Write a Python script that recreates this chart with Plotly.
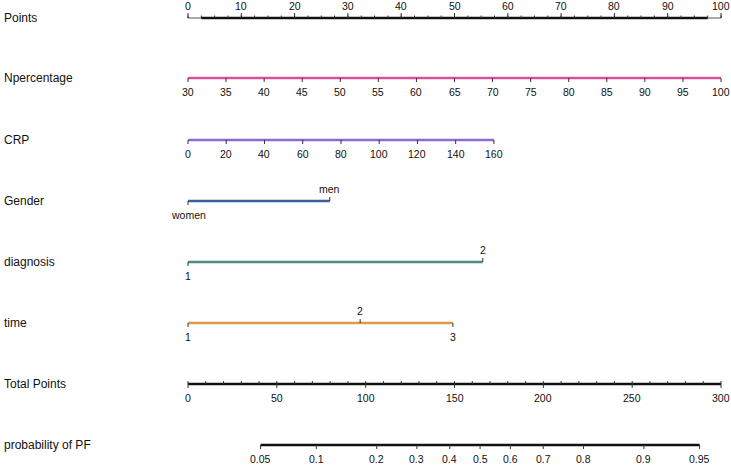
import plotly.graph_objects as go
import numpy as np

# ---------------- data ----------------
row_names = ["Points", "Npercentage", "CRP", "Gender", "diagnosis", "time",
             "Total Points", "probability of PF"]

points_ticks = [0, 10, 20, 30, 40, 50, 60, 70, 80, 90, 100]
points_minor = list(np.arange(0, 100.01, 2.5))

npct_vals = [30, 35, 40, 45, 50, 55, 60, 65, 70, 75, 80, 85, 90, 95, 100]
npct_pts = [0, 7.14, 14.29, 21.43, 28.57, 35.71, 42.86, 50.0, 57.14, 64.29,
            71.43, 78.57, 85.71, 92.86, 100]

crp_vals = [0, 20, 40, 60, 80, 100, 120, 140, 160]
crp_pts = [0, 7.17, 14.35, 21.52, 28.7, 35.87, 43.05, 50.22, 57.4]

gender_labels = ["women", "men"]
gender_pts = [0, 26.6]

diagnosis_labels = ["1", "2"]
diagnosis_pts = [0, 55.3]

time_labels = ["1", "2", "3"]
time_pts = [0, 32.3, 49.7]

total_ticks = [0, 50, 100, 150, 200, 250, 300]
total_minor = list(range(0, 301, 10))

prob_ticks = [0.05, 0.1, 0.2, 0.3, 0.4, 0.5, 0.6, 0.7, 0.8, 0.9, 0.95]
prob_labels = ["0.05", "0.1", "0.2", "0.3", "0.4", "0.5", "0.6", "0.7", "0.8", "0.9", "0.95"]
tp_at_half = 164.4      # total points where probability = 0.5
logit_per_tp = 0.02383  # slope of logit vs total points

# ---------------- layout constants ----------------
W, H = 731, 465
left_px, right_px = 188, 721
ppx = (right_px - left_px) / 100.0
xr = [-left_px / ppx, 100 + (W - right_px) / ppx]
row_y = [18, 78, 140, 201, 262, 323, 384, 445]

colors = {
    "Npercentage": "#d9509c",
    "CRP": "#8a6cd4",
    "Gender": "#3c5f9e",
    "diagnosis": "#4c8c84",
    "time": "#dd9a48",
}
FONT = "Liberation Sans, Arial, Helvetica, sans-serif"
TICK_FS = 10.5
NAME_FS = 12

fig = go.Figure()
annotations = []


def hline(x0, x1, y, color, width):
    fig.add_trace(go.Scatter(x=[x0, x1], y=[y, y], mode="lines",
                             line=dict(color=color, width=width),
                             hoverinfo="skip", showlegend=False))


def ticks(xs, y, length, color="#333333", width=1):
    tx, ty = [], []
    for x in xs:
        tx += [x, x, None]
        ty += [y, y + length, None]
    fig.add_trace(go.Scatter(x=tx, y=ty, mode="lines",
                             line=dict(color=color, width=width),
                             hoverinfo="skip", showlegend=False))


def label(x, y, text, size=TICK_FS):
    annotations.append(dict(x=x, y=y, xref="x", yref="y", text=text,
                            showarrow=False, xanchor="center", yanchor="middle",
                            font=dict(family=FONT, size=size, color="#111111")))


# Points axis
y = row_y[0]
hline(0, 100, y, "#555555", 1)
hline(2.5, 97.5, y, "#111111", 2.5)
ticks(points_minor, y, -2.5)
ticks(points_ticks, y, -5)
for v in points_ticks:
    label(v, y - 12, str(v))

# Npercentage
y = row_y[1]
hline(npct_pts[0], npct_pts[-1], y, colors["Npercentage"], 2.5)
ticks(npct_pts, y, 4)
for v, p in zip(npct_vals, npct_pts):
    label(p, y + 14, str(v))

# CRP
y = row_y[2]
hline(crp_pts[0], crp_pts[-1], y, colors["CRP"], 2.5)
ticks(crp_pts, y, 4)
for v, p in zip(crp_vals, crp_pts):
    label(p, y + 14, str(v))


def categorical(y, labels_, pts, color):
    hline(min(pts), max(pts), y, color, 2.5)
    for i, (lab, p) in enumerate(zip(labels_, pts)):
        below = (i % 2 == 0)
        ticks([p], y, 4 if below else -4)
        label(p, y + 14 if below else y - 12, lab)


categorical(row_y[3], gender_labels, gender_pts, colors["Gender"])
categorical(row_y[4], diagnosis_labels, diagnosis_pts, colors["diagnosis"])
categorical(row_y[5], time_labels, time_pts, colors["time"])

# Total points
y = row_y[6]
tp = [t / 3.0 for t in total_ticks]
hline(0, 100, y, "#111111", 2.5)
ticks([t / 3.0 for t in total_minor], y, -3)
ticks(tp, y, 4)
for v, p in zip(total_ticks, tp):
    label(p, y + 14, str(v))

# Probability
y = row_y[7]
pp = [(tp_at_half + np.log(p / (1 - p)) / logit_per_tp) / 3.0 for p in prob_ticks]
hline(pp[0], pp[-1], y, "#111111", 2.5)
ticks(pp, y, 4)
for lab, p in zip(prob_labels, pp):
    label(p, y + 14, lab)

# Row names
for name, yy in zip(row_names, row_y):
    annotations.append(dict(x=0, y=yy, xref="paper", yref="y", text=name,
                            showarrow=False, xanchor="left", yanchor="middle",
                            xshift=2,
                            font=dict(family=FONT, size=NAME_FS, color="#111111")))

fig.update_layout(
    width=W, height=H,
    margin=dict(l=0, r=0, t=0, b=0),
    paper_bgcolor="white", plot_bgcolor="white",
    xaxis=dict(range=xr, visible=False, fixedrange=True),
    yaxis=dict(range=[H, 0], visible=False, fixedrange=True),
    annotations=annotations,
    showlegend=False,
)
fig.write_html("out.html")
